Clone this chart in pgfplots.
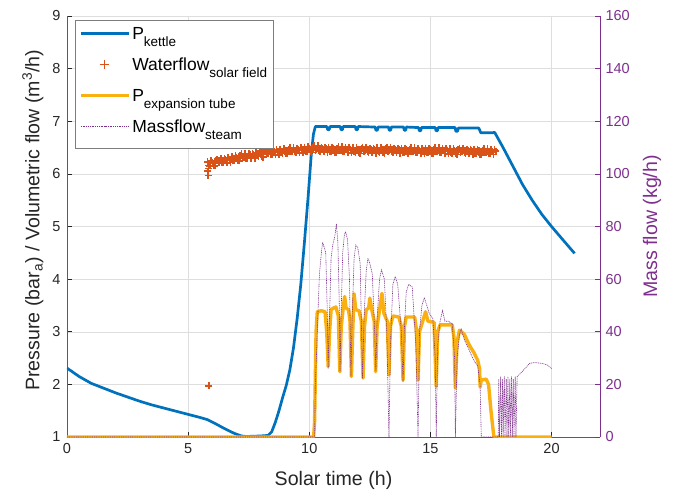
\documentclass[border=0pt]{standalone}
\usepackage{pgfplots}
\pgfplotsset{compat=1.18}
\usepackage{fontspec}
\setmainfont{Liberation Sans}

\definecolor{mblue}{HTML}{0072BD}
\definecolor{morange}{HTML}{D95319}
\definecolor{myellow}{HTML}{FAB010}
\definecolor{mpurple}{HTML}{7E2F8E}
\definecolor{axgray}{HTML}{262626}

% subscript used in the legend entries
\newcommand\lsub[1]{\raisebox{-7pt}{\fontsize{13.5}{14}\selectfont #1}}
\newcommand\labelfont{\fontsize{19.6}{22}\selectfont}

\begin{document}
\begin{tikzpicture}
\pgfplotsset{
  every axis/.append style={
    scale only axis, width=533pt, height=421pt,
    xmin=0, xmax=22,
    /pgf/number format/assume math mode=true,
    tick label style={font=\fontsize{14.5}{16}\selectfont},
    major tick length=5pt,
    tick align=inside,
  },
}
\path[use as bounding box] (-67pt,-54pt) rectangle (610pt,437pt);

% ---------- left axis: pressures and volumetric flow ----------
\begin{axis}[
  axis y line*=left, axis x line*=bottom,
  ymin=1, ymax=9, ytick={1,2,...,9},
  xtick={0,5,10,15,20},
  grid=major,
  major grid style={color=black!13, line width=0.5pt},
  axis line style={color=axgray!75, line width=0.7pt},
  every tick/.style={color=axgray, line width=0.6pt},
  ticklabel style={color=axgray},
  xticklabel style={yshift=-3pt},
  yticklabel style={xshift=-3pt},
  xlabel={Solar time (h)},
  every axis x label/.style={at={(axis description cs:0.5,0)}, yshift=-43pt, anchor=center, color=axgray, font=\labelfont},
  ylabel={Pressure (bar\textsubscript{a}) / Volumetric flow (m\textsuperscript{3}/h)},
  every axis y label/.style={at={(axis description cs:-0.064,0.515)}, rotate=90, anchor=center, color=axgray, font=\labelfont},
  legend style={at={(axis description cs:0.015,0.99)}, anchor=north west,
    draw=axgray!60, line width=0.6pt, fill=white,
    font=\fontsize{17.5}{19}\selectfont, inner xsep=4pt, inner ysep=2pt,
    nodes={text height=13pt, text depth=10pt, inner ysep=4pt},
    cells={anchor=west}},
  legend image code/.code={\draw[mark repeat=2,mark phase=2,#1] plot coordinates {(0pt,5pt) (24pt,5pt) (48pt,5pt)};},
]
\addlegendimage{mblue, line width=3pt}
\addlegendentry{P\lsub{kettle}}
\addlegendimage{morange, only marks, mark=+, mark size=4.5pt, line width=0.7pt}
\addlegendentry{Waterflow\lsub{solar field}}
\addlegendimage{myellow, line width=3pt}
\addlegendentry{P\lsub{expansion tube}}
\addlegendimage{mpurple, line width=0.6pt, dash pattern=on 1pt off 0.8pt}
\addlegendentry{Massflow\lsub{steam}}

% Waterflow, solar field (m3/h)
\addplot[forget plot, morange, only marks, mark=+, mark size=3.5pt, line width=1.6pt] coordinates {
(5.80,6.05) (5.82,5.97) (5.84,6.10) (5.85,1.97)
(5.8,6.23) (5.9,6.15) (6.0,6.22) (6.1,6.15) (6.2,6.28) (6.3,6.22) (6.4,6.21) (6.5,6.29) (6.6,6.21) (6.7,6.28)
(6.8,6.33) (6.9,6.25) (7.0,6.32) (7.1,6.25) (7.2,6.38) (7.3,6.31) (7.4,6.30) (7.5,6.38) (7.6,6.30) (7.7,6.36)
(7.8,6.41) (7.9,6.33) (8.0,6.40) (8.1,6.32) (8.2,6.45) (8.3,6.39) (8.4,6.37) (8.5,6.45) (8.6,6.36) (8.7,6.43)
(8.8,6.47) (8.9,6.39) (9.0,6.45) (9.1,6.38) (9.2,6.50) (9.3,6.43) (9.4,6.42) (9.5,6.49) (9.6,6.40) (9.7,6.47)
(9.8,6.51) (9.9,6.42) (10.0,6.49) (10.1,6.41) (10.2,6.53) (10.3,6.46) (10.4,6.44) (10.5,6.51) (10.6,6.42) (10.7,6.48)
(10.8,6.51) (10.9,6.42) (11.0,6.48) (11.1,6.40) (11.2,6.52) (11.3,6.45) (11.4,6.43) (11.5,6.50) (11.6,6.41) (11.7,6.47)
(11.8,6.50) (11.9,6.41) (12.0,6.47) (12.1,6.39) (12.2,6.51) (12.3,6.44) (12.4,6.42) (12.5,6.49) (12.6,6.40) (12.7,6.46)
(12.8,6.50) (12.9,6.41) (13.0,6.47) (13.1,6.39) (13.2,6.51) (13.3,6.44) (13.4,6.42) (13.5,6.49) (13.6,6.40) (13.7,6.46)
(13.8,6.49) (13.9,6.40) (14.0,6.46) (14.1,6.38) (14.2,6.50) (14.3,6.43) (14.4,6.41) (14.5,6.48) (14.6,6.39) (14.7,6.45)
(14.8,6.49) (14.9,6.40) (15.0,6.46) (15.1,6.38) (15.2,6.50) (15.3,6.43) (15.4,6.41) (15.5,6.48) (15.6,6.39) (15.7,6.45)
(15.8,6.48) (15.9,6.39) (16.0,6.45) (16.1,6.37) (16.2,6.49) (16.3,6.42) (16.4,6.40) (16.5,6.47) (16.6,6.38) (16.7,6.44)
(16.8,6.47) (16.9,6.38) (17.0,6.44) (17.1,6.36) (17.2,6.48) (17.3,6.41) (17.4,6.39) (17.5,6.46) (17.6,6.37) (17.7,6.43)
(5.85,6.16) (5.95,6.25) (6.05,6.16) (6.15,6.25) (6.25,6.21) (6.35,6.30) (6.45,6.21) (6.55,6.27) (6.65,6.31) (6.75,6.22)
(6.85,6.26) (6.95,6.35) (7.05,6.26) (7.15,6.35) (7.25,6.30) (7.35,6.39) (7.45,6.30) (7.55,6.36) (7.65,6.39) (7.75,6.30)
(7.85,6.34) (7.95,6.43) (8.05,6.33) (8.15,6.42) (8.25,6.38) (8.35,6.46) (8.45,6.37) (8.55,6.42) (8.65,6.46) (8.75,6.36)
(8.85,6.40) (8.95,6.48) (9.05,6.39) (9.15,6.47) (9.25,6.42) (9.35,6.50) (9.45,6.41) (9.55,6.46) (9.65,6.50) (9.75,6.40)
(9.85,6.43) (9.95,6.52) (10.05,6.42) (10.15,6.50) (10.25,6.45) (10.35,6.53) (10.45,6.43) (10.55,6.48) (10.65,6.51) (10.75,6.41)
(10.85,6.43) (10.95,6.51) (11.05,6.41) (11.15,6.49) (11.25,6.44) (11.35,6.52) (11.45,6.42) (11.55,6.47) (11.65,6.50) (11.75,6.40)
(11.85,6.42) (11.95,6.50) (12.05,6.40) (12.15,6.48) (12.25,6.43) (12.35,6.51) (12.45,6.41) (12.55,6.46) (12.65,6.49) (12.75,6.39)
(12.85,6.42) (12.95,6.50) (13.05,6.40) (13.15,6.48) (13.25,6.43) (13.35,6.51) (13.45,6.41) (13.55,6.46) (13.65,6.49) (13.75,6.39)
(13.85,6.41) (13.95,6.49) (14.05,6.39) (14.15,6.47) (14.25,6.42) (14.35,6.50) (14.45,6.40) (14.55,6.45) (14.65,6.48) (14.75,6.38)
(14.85,6.41) (14.95,6.49) (15.05,6.39) (15.15,6.47) (15.25,6.42) (15.35,6.50) (15.45,6.40) (15.55,6.45) (15.65,6.48) (15.75,6.38)
(15.85,6.40) (15.95,6.48) (16.05,6.38) (16.15,6.46) (16.25,6.41) (16.35,6.49) (16.45,6.39) (16.55,6.44) (16.65,6.47) (16.75,6.37)
(16.85,6.39) (16.95,6.47) (17.05,6.37) (17.15,6.45) (17.25,6.40) (17.35,6.48) (17.45,6.38) (17.55,6.43) (17.65,6.46)
};

% P kettle (bar_a)
\addplot[forget plot, mblue, line width=2.7pt, line join=round] coordinates {
(0,2.31) (0.5,2.15) (1,2.02) (1.5,1.93) (2,1.84) (2.5,1.76) (3,1.68) (3.5,1.61) (4,1.55) (4.5,1.49)
(5,1.43) (5.5,1.37) (5.8,1.33) (6.1,1.26) (6.5,1.16) (6.9,1.07) (7.2,1.02) (7.4,1.01) (8.0,1.02) (8.3,1.03)
(8.45,1.10) (8.6,1.28) (8.75,1.50) (8.9,1.75) (9.05,1.98) (9.2,2.28) (9.35,2.70) (9.5,3.25) (9.65,3.90)
(9.8,4.70) (9.95,5.55) (10.08,6.35) (10.17,6.75) (10.25,6.90)
(10.72,6.90) (10.76,6.84) (10.82,6.84) (10.86,6.90) (11.28,6.90) (11.31,6.84) (11.37,6.84) (11.40,6.90)
(11.90,6.90) (11.93,6.84) (11.99,6.84) (12.02,6.90) (12.72,6.89) (12.75,6.83) (12.81,6.83) (12.84,6.89)
(13.27,6.89) (13.30,6.83) (13.36,6.83) (13.39,6.89) (13.89,6.89) (13.92,6.83) (13.98,6.83) (14.01,6.89)
(14.51,6.88) (14.54,6.82) (14.60,6.82) (14.63,6.88) (15.20,6.88) (15.23,6.82) (15.29,6.82) (15.32,6.88)
(16.02,6.88) (16.05,6.81) (16.12,6.81) (16.15,6.87) (17.00,6.87) (17.08,6.78) (17.55,6.78) (17.65,6.79)
(18.0,6.50) (18.4,6.15) (18.8,5.80) (19.2,5.50) (19.6,5.23) (20.0,5.00) (20.5,4.73) (20.95,4.49)
};

% P expansion tube (bar_a)
\addplot[forget plot, myellow, line width=3.4pt, line join=round] coordinates {
(0,1) (10.18,1) (10.22,1.3) (10.28,3.0) (10.33,3.38) (10.5,3.40) (10.65,3.38) (10.72,3.0) (10.78,2.34)
(10.84,3.0) (10.9,3.42) (11.0,3.45) (11.1,3.47) (11.2,3.3) (11.26,2.24) (11.32,3.1) (11.4,3.45) (11.46,3.67)
(11.52,3.45) (11.62,3.42) (11.68,3.2) (11.74,2.15) (11.8,3.1) (11.85,3.72) (11.92,3.42) (12.05,3.40) (12.15,3.2)
(12.22,2.12) (12.28,3.1) (12.35,3.42) (12.45,3.45) (12.5,3.64) (12.58,3.42) (12.68,3.2) (12.74,2.24) (12.8,3.1)
(12.88,3.35) (13.0,3.73) (13.08,3.35) (13.22,3.2) (13.29,2.18) (13.35,3.1) (13.45,3.30) (13.7,3.28) (13.8,3.1)
(13.87,2.08) (13.93,3.1) (14.0,3.28) (14.35,3.28) (14.42,3.05) (14.49,2.08) (14.55,3.0) (14.65,3.15) (14.8,3.38)
(14.9,3.2) (15.15,3.18) (15.24,1.96) (15.3,3.0) (15.4,3.13) (15.9,3.13) (15.97,2.9) (16.03,1.93) (16.1,2.8)
(16.2,3.03) (16.4,2.95) (16.6,2.75) (16.8,2.60) (16.95,2.46) (17.03,2.3) (17.05,1.95) (17.1,2.08) (17.3,2.10)
(17.4,2.0) (17.5,1.5) (17.62,1.0) (20.0,1.0)
};
\end{axis}

% ---------- right axis: steam mass flow ----------
\begin{axis}[
  axis y line*=right, axis x line=none,
  ymin=0, ymax=160, ytick={0,20,...,160}, xtick=\empty,
  axis line style={color=mpurple, line width=0.7pt},
  every tick/.style={color=mpurple, line width=0.6pt},
  ticklabel style={color=mpurple},
  yticklabel style={xshift=2pt},
  ylabel={Mass flow (kg/h)},
  every axis y label/.style={at={(axis description cs:1.0976,0.5)}, rotate=90, anchor=center, color=mpurple, font=\labelfont},
]
\addplot[mpurple, line width=0.6pt, dash pattern=on 1pt off 0.8pt] coordinates {
(0,0) (10.15,0) (10.22,0) (10.25,20) (10.3,32) (10.35,45) (10.42,62) (10.5,70) (10.55,74) (10.62,72) (10.68,70)
(10.75,45) (10.78,26) (10.82,40) (10.9,68) (10.97,73) (11.05,76) (11.12,81) (11.18,74) (11.24,50) (11.27,25)
(11.31,45) (11.38,70) (11.45,77) (11.5,78) (11.58,75) (11.66,60) (11.72,23) (11.77,45) (11.85,68) (11.92,73)
(12.0,72) (12.1,66) (12.2,22) (12.26,45) (12.35,63) (12.42,68) (12.5,66) (12.6,62) (12.7,40) (12.75,25)
(12.8,45) (12.9,60) (12.98,63.5) (13.1,60) (13.2,40) (13.29,0) (13.35,35) (13.45,58) (13.55,61) (13.65,58)
(13.8,40) (13.87,21) (13.92,40) (14.0,55) (14.1,58) (14.25,57) (14.4,35) (14.49,0) (14.55,40) (14.65,50)
(14.75,53) (14.85,50) (14.95,47) (15.1,45) (15.2,30) (15.24,0) (15.3,35) (15.4,44) (15.5,48) (15.6,44)
(15.75,44) (15.9,43) (16.0,30) (16.03,0) (16.1,30) (16.2,39) (16.27,41) (16.4,37) (16.6,33) (16.8,29)
(16.95,27) (17.05,20) (17.1,0) (17.8,0) (17.82,22) (17.85,0) (17.9,23) (17.93,0) (17.98,22) (18.0,0)
(18.05,23) (18.08,0) (18.13,22) (18.16,0) (18.2,23) (18.23,0) (18.28,22) (18.3,0) (18.35,23) (18.38,0)
(18.42,22) (18.45,0) (18.5,23) (18.53,0) (18.58,23) (18.7,24) (18.9,26) (19.1,28) (19.3,28.3) (19.6,28)
(19.8,27.5) (19.95,26.5) (20.0,26)
};
\end{axis}
\end{tikzpicture}
\end{document}
